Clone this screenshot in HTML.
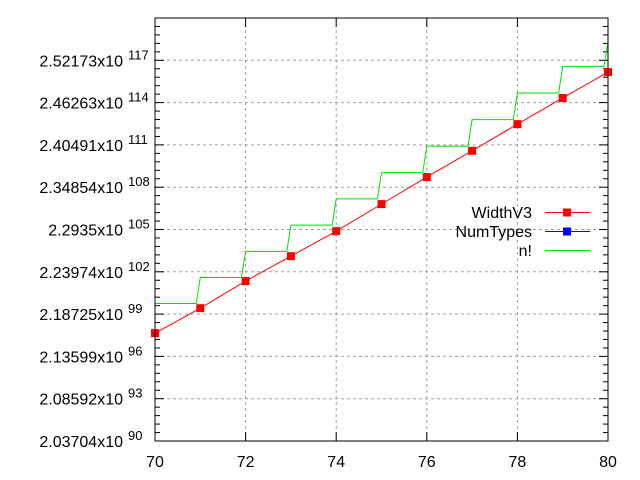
<!DOCTYPE html>
<html><head><meta charset="utf-8"><style>
body{margin:0;background:#fff}
svg{display:block;font-family:"Liberation Sans",sans-serif}
</style></head><body>
<svg id="chart" width="640" height="480" xmlns="http://www.w3.org/2000/svg"></svg>
<script>
const xTicks=[70,72,74,76,78,80];
const yTickExp=[300,310,320,330,340,350,360,370,380,390,400];
const yTickLabels=["2.03704x10","2.08592x10","2.13599x10","2.18725x10","2.23974x10","2.2935x10","2.34854x10","2.40491x10","2.46263x10","2.52173x10",""];
const yTickSup=["90","93","96","99","102","105","108","111","114","117",""];
const nValues=[70,71,72,73,74,75,76,77,78,79,80];
const widthV3=[325.5,331.4,337.8,343.7,349.6,356.0,362.4,368.6,374.9,381.1,387.2];
const nFact=[332.5,338.66,344.83,351.02,357.23,363.46,369.70,375.97,382.26,388.56,394.3];

const L=155,R=608,T=18,B=441;
const X=v=>L+(v-70)/10*(R-L);
const Y=v=>B-(v-300)/100*(B-T);
const svg=document.getElementById('chart');
const NS="http://www.w3.org/2000/svg";
function mk(tag,attrs,parent){const e=document.createElementNS(NS,tag);for(const k in attrs)e.setAttribute(k,attrs[k]);(parent||svg).appendChild(e);return e;}

// grid
yTickExp.forEach((v,i)=>{if(i>0&&i<yTickExp.length-1){const g=mk('line',{x1:L,x2:R,y1:Y(v),y2:Y(v),stroke:'#a0a0a0','stroke-dasharray':'3,3','stroke-width':1});

}});
xTicks.forEach((v,i)=>{if(i>0&&i<xTicks.length-1){const g=mk('line',{x1:X(v),x2:X(v),y1:T,y2:B,stroke:'#a0a0a0','stroke-dasharray':'3,3','stroke-width':1});

}});

// ticks
for(let v=300;v<=400;v+=2){const major=(v%10===0);const len=major?9:5;
mk('line',{x1:L,x2:L+len,y1:Y(v),y2:Y(v),stroke:'#000'});
mk('line',{x1:R,x2:R-len,y1:Y(v),y2:Y(v),stroke:'#000'});}
xTicks.forEach(v=>{mk('line',{x1:X(v),x2:X(v),y1:B,y2:B-9,stroke:'#000'});mk('line',{x1:X(v),x2:X(v),y1:T,y2:T+9,stroke:'#000'});});

// labels
yTickExp.forEach((v,i)=>{if(!yTickLabels[i])return;
const t=mk('text',{x:123,y:Y(v)+6,'text-anchor':'end','font-size':16,fill:'#000'});t.textContent=yTickLabels[i];


const s=mk('text',{x:128,y:Y(v)-1,'font-size':13,fill:'#000'});s.textContent=yTickSup[i];

});
xTicks.forEach(v=>{const t=mk('text',{x:X(v),y:467,'text-anchor':'middle','font-size':16,fill:'#000'});t.textContent=v;

});

// n! step line: level held from n to n+0.91, then rises to next value at n+1
let d='';
nValues.forEach((n,i)=>{const y=Y(nFact[i]);
d+=(i===0?'M':'L')+`${X(n)},${y}`;
if(i<nValues.length-1)d+=`L${X(n+0.91)},${y}`;});
const gl=mk('path',{d:d,fill:'none',stroke:'#00e000','stroke-width':1});



// WidthV3
const pts=nValues.map((n,i)=>`${X(n)},${Y(widthV3[i])}`).join(' ');
const rl=mk('polyline',{points:pts,fill:'none',stroke:'#f00','stroke-width':1});


nValues.forEach((n,i)=>{const m=mk('rect',{x:X(n)-4,y:Y(widthV3[i])-4,width:8,height:8,fill:'#f00'});

});

// frame
const fr=mk('rect',{x:L,y:T,width:R-L,height:B-T,fill:'none',stroke:'#000','stroke-width':1});



// legend
const leg=[["WidthV3","#f00",true],["NumTypes","#00f",true],["n!","#00e000",false]];
leg.forEach((e,i)=>{const y=212+i*19;
const t=mk('text',{x:532,y:y+6,'text-anchor':'end','font-size':16,fill:'#000'});t.textContent=e[0];


mk('line',{x1:545,x2:590,y1:y+0.5,y2:y+0.5,stroke:e[1],'shape-rendering':'crispEdges'});
if(e[2])mk('rect',{x:563,y:y-3.5,width:8,height:8,fill:e[1]});});
</script>
</body></html>
